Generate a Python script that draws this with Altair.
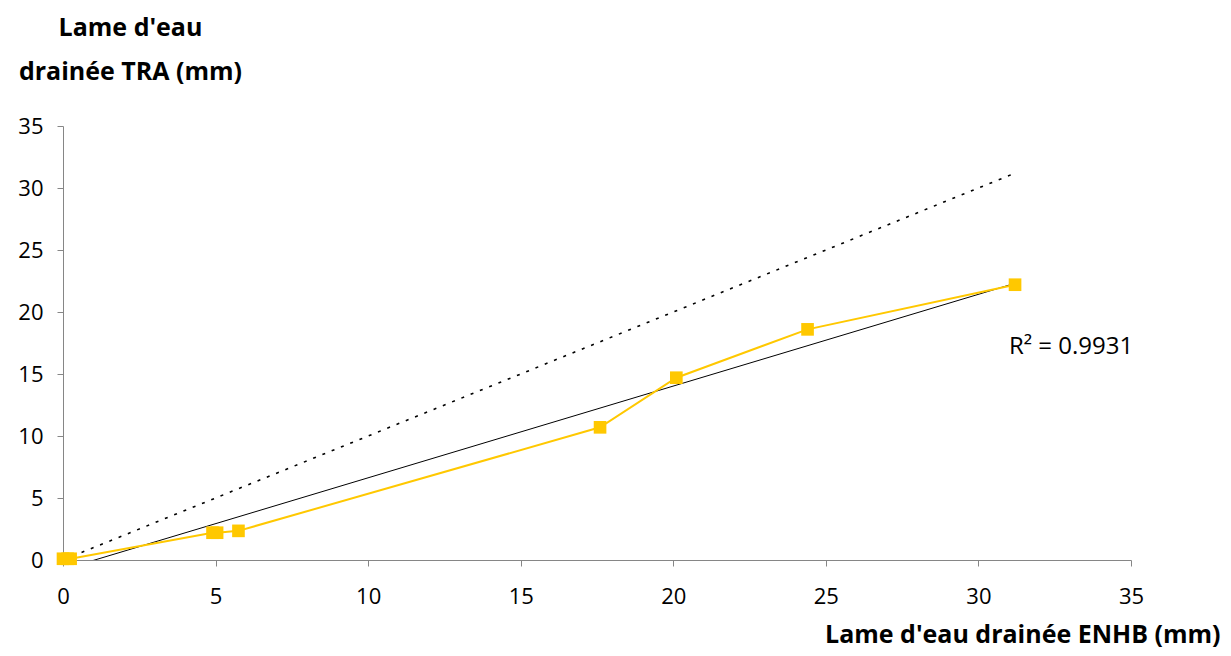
import altair as alt
import pandas as pd

# Data
enhb = [0.0, 0.15, 0.25, 4.9, 5.05, 5.75, 17.6, 20.1, 24.4, 31.2]
tra = [0.1, 0.1, 0.1, 2.2, 2.2, 2.35, 10.7, 14.7, 18.6, 22.2]
ref_x = [0.0, 31.2]
ref_y = [0.0, 31.2]
r2_label = ["R² = 0.9931"]
r2_x = [31.0]
r2_y = [17.2]

df = pd.DataFrame({"x": enhb, "y": tra})
ref = pd.DataFrame({"x": ref_x, "y": ref_y})
lab = pd.DataFrame({"x": r2_x, "y": r2_y, "t": r2_label})

FONT = "Open Sans"
AX = "#868686"
YEL = "#FFC800"

xs = alt.Scale(domain=[0, 35], nice=False, zero=False)
ys = alt.Scale(domain=[0, 35], nice=False, zero=False)

xaxis = alt.Axis(
    values=[0, 5, 10, 15, 20, 25, 30, 35], grid=False, domainColor=AX, tickColor=AX,
    tickSize=6, labelFont=FONT, labelFontSize=22, labelColor="#000", labelPadding=20,
    labelFlush=False,
    title="Lame d'eau drainée ENHB (mm)", titleFont=FONT, titleFontSize=25, titleFontWeight="bold",
    titleColor="#000", titleAnchor="end", titleAlign="right", titleX=1157, titleY=82,
    titleBaseline="alphabetic",
)
yaxis = alt.Axis(
    values=[0, 5, 10, 15, 20, 25, 30, 35], grid=False, domainColor=AX, tickColor=AX,
    tickSize=6, labelFont=FONT, labelFontSize=22, labelColor="#000", labelPadding=14,
    labelFlush=False,
    title=["Lame d'eau", "drainée TRA (mm)"], titleFont=FONT, titleFontSize=25, titleFontWeight="bold",
    titleColor="#000", titleAngle=0, titleAlign="center", titleX=67, titleY=-91,
    titleBaseline="alphabetic", titleLineHeight=44,
)

base_x = alt.X("x:Q", scale=xs, axis=xaxis)
base_y = alt.Y("y:Q", scale=ys, axis=yaxis)

oneone = alt.Chart(ref).mark_line(color="#000", strokeWidth=1.6, strokeDash=[3, 7]).encode(
    x=base_x, y=base_y
)

trend = alt.Chart(df).transform_regression("x", "y").mark_line(
    color="#000", strokeWidth=1, clip=True
).encode(x=base_x, y=base_y)

series = alt.Chart(df).mark_line(
    color=YEL, strokeWidth=2,
    point=alt.OverlayMarkDef(shape="square", size=160, filled=True, color=YEL, opacity=1),
).encode(x=base_x, y=base_y)

text = alt.Chart(lab).mark_text(
    align="left", baseline="middle", font=FONT, fontSize=24, color="#000"
).encode(x=base_x, y=base_y, text="t:N")

chart = alt.layer(oneone, trend, series, text).properties(
    width=1068, height=434,
    autosize=alt.AutoSizeParams(type="none"),
    padding={"left": 55, "top": 118, "right": 92, "bottom": 88},
).configure(background="white", view=alt.ViewConfig(stroke=None))

chart.save("out.html", embed_options={"renderer": "svg", "actions": False})
